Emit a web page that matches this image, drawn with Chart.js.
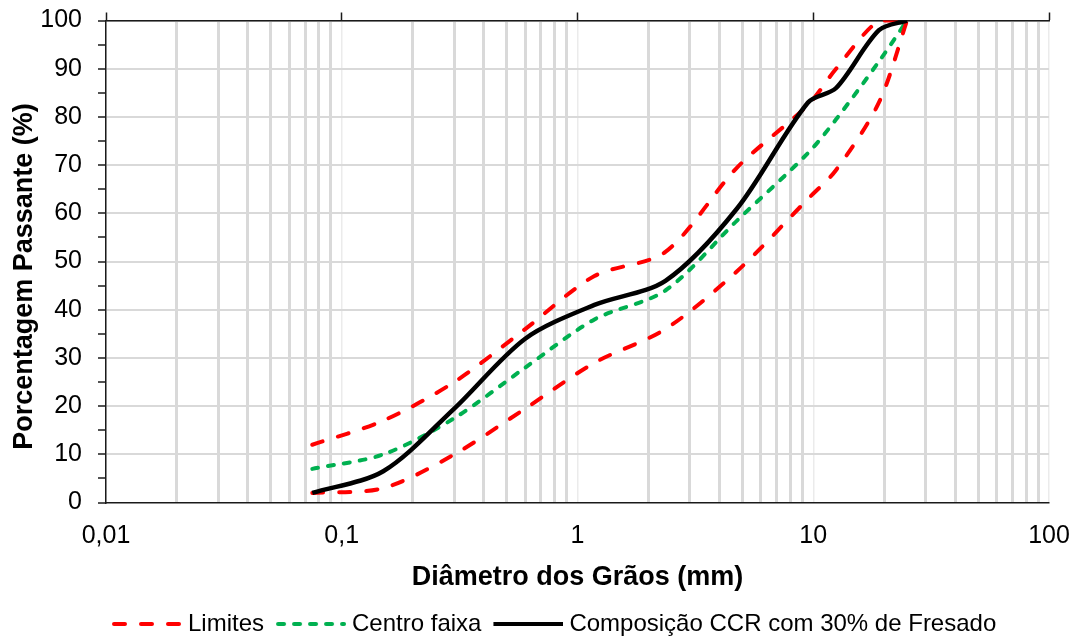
<!DOCTYPE html>
<html lang="pt">
<head>
<meta charset="UTF-8">
<title>Curva granulométrica</title>
<script src="https://cdn.jsdelivr.net/npm/chart.js"></script>
<style>
  html, body { margin: 0; padding: 0; background: #fff; }
  .wrap { width: 1082px; height: 639px; }
</style>
</head>
<body>
<div class="wrap"><canvas id="grafico" width="1082" height="639"></canvas></div>
<script>
  // abertura das peneiras (mm)
  const peneiras = [0.075, 0.15, 0.3, 0.6, 1.18, 2.36, 4.75, 9.5, 12.5, 19, 25];
  // % passante
  const limiteInferior = [2, 3, 10, 19.5, 29, 36, 48, 63, 69, 83, 100];
  const limiteSuperior = [12, 17, 25, 36, 47, 52, 69.5, 82.5, 90, 100, 100];
  const centroFaixa    = [7, 10, 17.5, 28, 38, 44, 58.5, 72.5, 79.5, 91.5, 100];
  const composicaoCCR  = [2, 6.5, 19.5, 34, 41, 46, 61, 83, 86, 98, 100];

  const xTicks = [];
  for (let e = -2; e < 2; e++) for (let s = 1; s <= 9; s++) xTicks.push(+(s * Math.pow(10, e)).toPrecision(3));
  xTicks.push(100);
  const xLabels = ['0,01', '0,1', '1', '10', '100'];

  const isDecade = v => Math.abs(Math.log10(v) - Math.round(Math.log10(v))) < 1e-6;
  const pts = arr => peneiras.map((d, i) => ({x: d, y: arr[i]}));

  const RED_DASH = [11, 16], GREEN_DASH = [6, 10];

  // amostra da linha para a legenda (tracejado igual ao do grafico)
  function swatch(color, dash) {
    const c = document.createElement('canvas');
    c.width = 76; c.height = 8;
    const g = c.getContext('2d');
    g.strokeStyle = color;
    g.lineWidth = 4;
    g.lineCap = dash ? 'round' : 'butt';
    g.setLineDash(dash || []);
    g.beginPath();
    g.moveTo(dash ? 8 : 6, 4);
    g.lineTo(dash ? 74 : 76, 4);
    g.stroke();
    return c;
  }
  const swatches = [swatch('#ff0000', RED_DASH), null, swatch('#00b050', GREEN_DASH), swatch('#000', null)];

  Chart.defaults.font.family = '"Liberation Sans", Arial, sans-serif';
  Chart.defaults.color = '#000';

  const legendShift = {
    id: 'legendShift',
    afterLayout(chart) { chart.legend.left = 100; }
  };

  const ctx = document.getElementById('grafico').getContext('2d');
  new Chart(ctx, {
    type: 'line',
    data: {
      datasets: [
        { label: 'Limites', data: pts(limiteInferior), borderColor: '#ff0000', borderWidth: 4,
          borderDash: RED_DASH, borderCapStyle: 'round', pointRadius: 0, tension: 0.3, order: 1 },
        { label: 'Limites', data: pts(limiteSuperior), borderColor: '#ff0000', borderWidth: 4,
          borderDash: RED_DASH, borderCapStyle: 'round', pointRadius: 0, tension: 0.3, order: 1 },
        { label: 'Centro faixa', data: pts(centroFaixa), borderColor: '#00b050', borderWidth: 4,
          borderDash: GREEN_DASH, borderCapStyle: 'round', pointRadius: 0, tension: 0.3, order: 1 },
        { label: 'Composição CCR com 30% de Fresado', data: pts(composicaoCCR), borderColor: '#000', borderWidth: 4.5,
          pointRadius: 0, tension: 0.3, order: 0 }
      ]
    },
    plugins: [legendShift],
    options: {
      responsive: false,
      animation: false,
      layout: { padding: { top: 12.5, right: 33, bottom: -7, left: 0 } },
      plugins: {
        tooltip: { enabled: false },
        legend: {
          position: 'bottom',
          align: 'start',
          labels: {
            usePointStyle: true,
            pointStyleWidth: 64,
            padding: 12,
            font: { size: 24 },
            color: '#000',
            generateLabels: chart => {
              const items = Chart.defaults.plugins.legend.labels.generateLabels(chart);
              items.forEach(it => { it.pointStyle = swatches[it.datasetIndex] || it.pointStyle; });
              return items;
            },
            filter: item => item.datasetIndex !== 1,
            sort: (a, b) => a.datasetIndex - b.datasetIndex
          }
        }
      },
      scales: {
        x: {
          type: 'logarithmic',
          position: 'bottom',
          min: 0.01,
          max: 100,
          afterBuildTicks: s => { s.ticks = xTicks.map(v => ({value: v, major: isDecade(v)})); },
          afterFit: s => { s.paddingLeft = 0; s.paddingRight = 0; },
          ticks: {
            autoSkip: false, maxRotation: 0, minRotation: 0, padding: 19,
            font: { size: 25 },
            callback: v => isDecade(v) ? xLabels[Math.round(Math.log10(v)) + 2] : ''
          },
          grid: {
            drawTicks: false,
            color: c => isDecade(c.tick.value) ? '#ebebeb' : '#d9d9d9',
            lineWidth: c => isDecade(c.tick.value) ? 1.5 : 3
          },
          border: { color: '#1a1a1a', width: 1.5 },
          title: { display: true, text: 'Diâmetro dos Grãos (mm)', font: { size: 27, weight: 'bold' },
                   padding: { top: -9, bottom: 6 } }
        },
        x2: {
          type: 'logarithmic',
          position: 'top',
          min: 0.01,
          max: 100,
          afterBuildTicks: s => { s.ticks = xTicks.filter(isDecade).map(v => ({value: v})); },
          ticks: { display: false },
          grid: { drawOnChartArea: false, tickLength: 8, tickColor: '#1a1a1a', tickWidth: 1.5 },
          border: { color: '#1a1a1a', width: 1.5 }
        },
        y: {
          min: 0,
          max: 100,
          afterFit: s => { s.width = 106; s.paddingTop = 0; s.paddingBottom = 0; },
          ticks: {
            stepSize: 5, autoSkip: false, padding: 16,
            font: { size: 25 },
            callback: v => v % 10 === 0 ? v : ''
          },
          grid: {
            tickLength: 8,
            tickColor: '#1a1a1a',
            tickWidth: 1.5,
            color: c => (c.tick.value % 10 === 0 && c.tick.value !== 0) ? '#d9d9d9' : 'rgba(0,0,0,0)',
            lineWidth: 2
          },
          border: { color: '#1a1a1a', width: 1.5 },
          title: { display: true, text: 'Porcentagem Passante (%)    ', font: { size: 27, weight: 'bold' },
                   padding: { top: 8, bottom: 4 } }
        }
      }
    }
  });
</script>
</body>
</html>
